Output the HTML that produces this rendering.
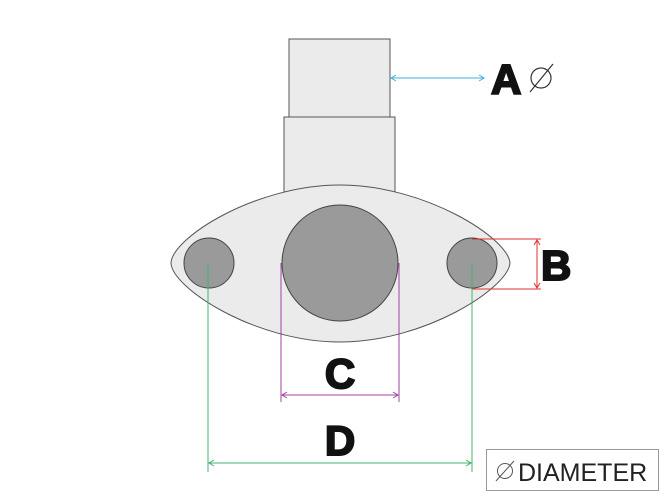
<!DOCTYPE html>
<html><head><style>body{margin:0;background:#fff}svg{display:block}</style></head><body>
<svg width="670" height="503" xmlns="http://www.w3.org/2000/svg">
<defs>
<marker id="ab" markerWidth="8" markerHeight="8" refX="6" refY="4" orient="auto-start-reverse" markerUnits="userSpaceOnUse"><path d="M1,1 L6,4 L1,7" fill="none" stroke="#3fb0e0" stroke-width="1"/></marker>
<marker id="ar" markerWidth="8" markerHeight="8" refX="6" refY="4" orient="auto-start-reverse" markerUnits="userSpaceOnUse"><path d="M1,1 L6,4 L1,7" fill="none" stroke="#e03030" stroke-width="1"/></marker>
<marker id="ap" markerWidth="8" markerHeight="8" refX="6" refY="4" orient="auto-start-reverse" markerUnits="userSpaceOnUse"><path d="M1,1 L6,4 L1,7" fill="none" stroke="#a040a0" stroke-width="1"/></marker>
<marker id="ag" markerWidth="8" markerHeight="8" refX="6" refY="4" orient="auto-start-reverse" markerUnits="userSpaceOnUse"><path d="M1,1 L6,4 L1,7" fill="none" stroke="#40b070" stroke-width="1"/></marker>
</defs>
<rect x="289" y="39" width="101" height="78" fill="#ebebeb" stroke="#555" stroke-width="1"/>
<rect x="284" y="117" width="111" height="75" fill="#ebebeb" stroke="#555" stroke-width="1"/>
<path d="M171,263 C172,238 255,185 340,185 C425,185 508,238 510,263 C508,288 425,342 340,342 C255,342 172,288 171,263 Z" fill="#ebebeb" stroke="#555" stroke-width="1"/>
<circle cx="209" cy="263" r="25" fill="#9a9a9a" stroke="#444"/>
<circle cx="340" cy="263" r="58" fill="#9a9a9a" stroke="#444"/>
<circle cx="472" cy="263" r="25" fill="#9a9a9a" stroke="#444"/>
<line x1="391" y1="78" x2="484" y2="78" stroke="#3fb0e0" marker-start="url(#ab)" marker-end="url(#ab)"/>
<line x1="472" y1="239" x2="541" y2="239" stroke="#e03030"/>
<line x1="472" y1="289" x2="541" y2="289" stroke="#e03030"/>
<line x1="537" y1="240" x2="537" y2="288" stroke="#e03030" marker-start="url(#ar)" marker-end="url(#ar)"/>
<line x1="281" y1="263" x2="281" y2="402" stroke="#a040a0"/>
<line x1="399" y1="263" x2="399" y2="402" stroke="#a040a0"/>
<line x1="282" y1="395" x2="398" y2="395" stroke="#a040a0" marker-start="url(#ap)" marker-end="url(#ap)"/>
<line x1="208" y1="263" x2="208" y2="472" stroke="#40b070"/>
<line x1="472" y1="263" x2="472" y2="472" stroke="#40b070"/>
<line x1="209" y1="463" x2="471" y2="463" stroke="#40b070" marker-start="url(#ag)" marker-end="url(#ag)"/>
<g font-family="Liberation Sans, sans-serif" font-weight="900" fill="#111" font-size="42">
<text x="491" y="94" stroke="#111" stroke-width="2">A</text>
<text x="541" y="280" stroke="#111" stroke-width="2">B</text>
<text x="340" y="388" text-anchor="middle" stroke="#111" stroke-width="2">C</text>
<text x="340" y="455" text-anchor="middle" stroke="#111" stroke-width="2">D</text>
</g>
<circle cx="541" cy="78" r="10" fill="none" stroke="#333" stroke-width="1.2"/>
<line x1="530" y1="92" x2="553" y2="64" stroke="#333" stroke-width="1.2"/>
<rect x="486.5" y="449.5" width="172" height="41" fill="#fff" stroke="#999"/>
<circle cx="505" cy="471" r="7.5" fill="none" stroke="#555"/>
<line x1="496" y1="481" x2="514" y2="461" stroke="#555"/>
<text x="518" y="481" font-family="Liberation Sans, sans-serif" font-size="25" fill="#222">DIAMETER</text>
</svg>
</body></html>
